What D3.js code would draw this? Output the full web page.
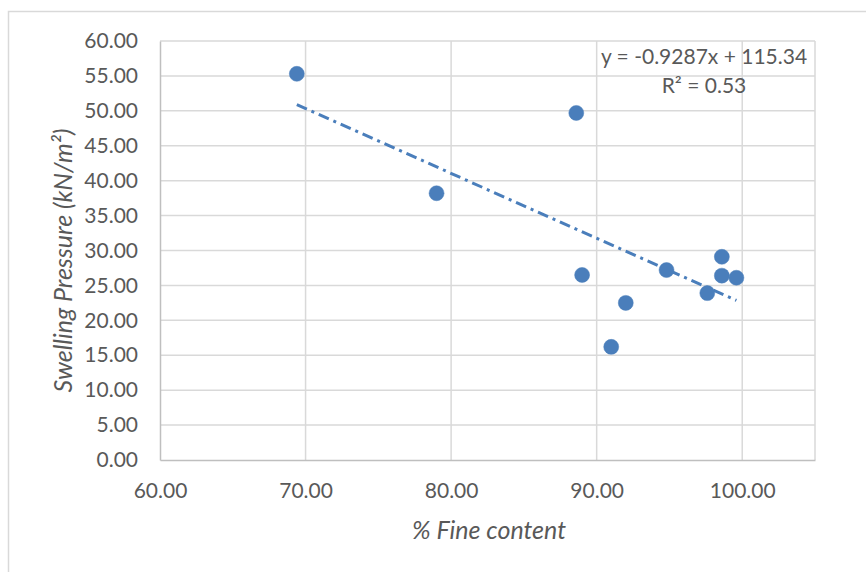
<!DOCTYPE html>
<html><head><meta charset="utf-8">
<script src="https://cdn.jsdelivr.net/npm/d3@7"></script>
<style>body{margin:0;background:#fff}</style>
</head><body>
<svg id="chart" width="866" height="572"></svg>
<script>
const fineContent = [69.4, 79.0, 88.6, 89.0, 91.0, 92.0, 94.8, 97.6, 98.6, 98.6, 99.6];
const swellingPressure = [55.3, 38.2, 49.7, 26.5, 16.2, 22.5, 27.2, 23.9, 29.1, 26.4, 26.1];
const xTicks = [60, 70, 80, 90, 100];
const yTicks = [0, 5, 10, 15, 20, 25, 30, 35, 40, 45, 50, 55, 60];
const trendSlope = -0.9287, trendIntercept = 115.34;
const equationLines = ["y = -0.9287x + 115.34", "R² = 0.53"];
const xTitle = "% Fine content";
const yTitle = "Swelling Pressure (kN/m²)";

const svg = d3.select("#chart");
const font = "Lato, 'Open Sans', sans-serif";
const textCol = "#595959";
const m = {left: 160, right: 815, top: 41, bottom: 460};
const x = d3.scaleLinear().domain([60, 105]).range([m.left, m.right]);
const y = d3.scaleLinear().domain([0, 60]).range([m.bottom, m.top]);

// outer chart border
svg.append("rect").attr("x", 8.5).attr("y", 11.5).attr("width", 900).attr("height", 600)
  .attr("fill", "none").attr("stroke", "#d9d9d9").attr("stroke-width", 1.5);

// gridlines
svg.append("g").selectAll("line").data(yTicks.slice(1)).join("line")
  .attr("x1", m.left).attr("x2", m.right).attr("y1", d => y(d)).attr("y2", d => y(d))
  .attr("stroke", "#d9d9d9").attr("stroke-width", 1.5);
svg.append("g").selectAll("line").data(xTicks.concat([105]).slice(1)).join("line")
  .attr("x1", d => x(d)).attr("x2", d => x(d)).attr("y1", m.top).attr("y2", m.bottom)
  .attr("stroke", "#d9d9d9").attr("stroke-width", 1.5);

// axes
const xAxis = svg.append("g").attr("transform", `translate(0,${m.bottom})`)
  .call(d3.axisBottom(x).tickValues(xTicks).tickFormat(d3.format(".2f")).tickSize(0).tickPadding(23));
const yAxis = svg.append("g").attr("transform", `translate(${m.left},0)`)
  .call(d3.axisLeft(y).tickValues(yTicks).tickFormat(d3.format(".2f")).tickSize(0).tickPadding(22));
xAxis.select(".domain").attr("stroke", "#bfbfbf").attr("stroke-width", 1.5);
yAxis.select(".domain").attr("stroke", "#bfbfbf").attr("stroke-width", 1.5);
[xAxis, yAxis].forEach(g => g.selectAll("text").attr("fill", textCol)
  .style("font-family", font).style("font-size", "21px"));

// trendline
const xmin = d3.min(fineContent), xmax = d3.max(fineContent);
svg.append("line")
  .attr("x1", x(xmin)).attr("y1", y(trendSlope * xmin + trendIntercept))
  .attr("x2", x(xmax)).attr("y2", y(trendSlope * xmax + trendIntercept))
  .attr("stroke", "#4a7ebb").attr("stroke-width", 3)
  .attr("stroke-dasharray", "11,5,3,5");

// points
svg.append("g").selectAll("circle").data(fineContent.map((v, i) => [v, swellingPressure[i]])).join("circle")
  .attr("cx", d => x(d[0])).attr("cy", d => y(d[1])).attr("r", 7.5)
  .attr("fill", "#4a7ebb").attr("stroke", "#4a7ebb").attr("stroke-width", 0.5);

// equation
const eq = svg.append("text").attr("fill", textCol).style("font-family", font).style("font-size", "21px")
  .attr("text-anchor", "middle");
eq.append("tspan").attr("x", 704).attr("y", 64).text(equationLines[0]);
eq.append("tspan").attr("x", 704).attr("y", 93).text(equationLines[1]);

// titles
svg.append("text").attr("x", 489).attr("y", 539).attr("text-anchor", "middle")
  .attr("fill", textCol).style("font-family", font).style("font-size", "25px").style("font-style", "italic")
  .text(xTitle);
svg.append("text").attr("transform", `translate(72,${(m.top + m.bottom) / 2 + 10}) rotate(-90)`)
  .attr("text-anchor", "middle").attr("fill", textCol)
  .style("font-family", font).style("font-size", "25px").style("font-style", "italic")
  .text(yTitle);
</script>
</body></html>
